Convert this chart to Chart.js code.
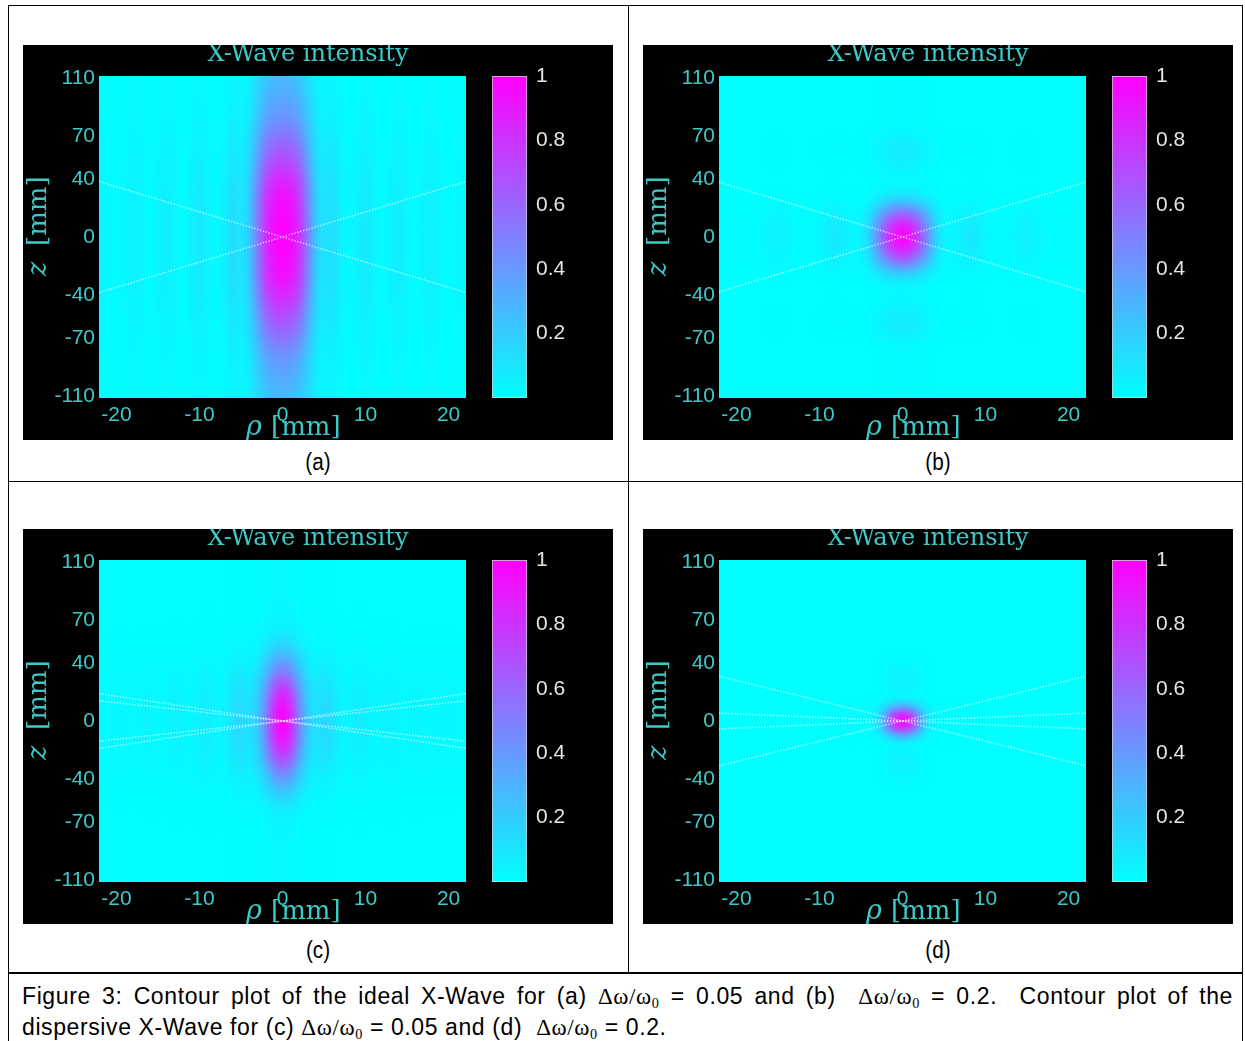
<!DOCTYPE html>
<html><head><meta charset="utf-8">
<script src="https://cdn.jsdelivr.net/npm/chart.js@4.4.0/dist/chart.umd.min.js"></script>
<style>
html,body{margin:0;padding:0;background:#fff;}
body{width:1245px;height:1041px;position:relative;overflow:hidden;font-family:'Liberation Sans',Arial,sans-serif;}
.ln{position:absolute;background:#000;}
.panel{position:absolute;width:590px;height:395px;background:#000;overflow:hidden;}
.panel canvas{position:absolute;top:0;}
.lbl{position:absolute;width:100px;text-align:center;font-size:23px;line-height:26px;color:#000;transform:scaleX(0.9);}
.cap{position:absolute;left:22px;width:1211px;font-size:23px;letter-spacing:0.6px;line-height:30px;color:#000;font-family:'Liberation Sans',Arial,sans-serif;}
.cap1{text-align:justify;text-align-last:justify;}
.m{font-family:'Liberation Serif','Times New Roman',serif;}
sub{font-size:0.62em;vertical-align:-0.3em;line-height:0;}
</style></head><body>
<div class="ln" style="left:8px;top:5px;width:1235px;height:1px"></div>
<div class="ln" style="left:8px;top:5px;width:1px;height:1036px"></div>
<div class="ln" style="left:1242px;top:5px;width:1px;height:1036px"></div>
<div class="ln" style="left:628px;top:5px;width:1px;height:968px"></div>
<div class="ln" style="left:8px;top:481px;width:1235px;height:1px"></div>
<div class="ln" style="left:8px;top:972px;width:1235px;height:2px"></div>

<div class="panel" id="pa" style="left:23px;top:45px"></div>
<div class="panel" id="pb" style="left:643px;top:45px"></div>
<div class="panel" id="pc" style="left:23px;top:529px"></div>
<div class="panel" id="pd" style="left:643px;top:529px"></div>

<div class="lbl" style="left:268px;top:449px">(a)</div>
<div class="lbl" style="left:888px;top:449px">(b)</div>
<div class="lbl" style="left:268px;top:937px">(c)</div>
<div class="lbl" style="left:888px;top:937px">(d)</div>

<div class="cap cap1" id="cap1" style="top:981px">Figure 3: Contour plot of the ideal X-Wave for (a) <span class="m">Δω/ω<sub>0</sub></span> = 0.05 and (b)&nbsp; <span class="m">Δω/ω<sub>0</sub></span> = 0.2.&nbsp; Contour plot of the</div>
<div class="cap" id="cap2" style="top:1012px">dispersive X-Wave for (c) <span class="m">Δω/ω<sub>0</sub></span> = 0.05 and (d)&nbsp; <span class="m">Δω/ω<sub>0</sub></span> = 0.2.</div>

<script>
// ---------- grids and tick labels ----------
const rhoGrid = [-22,-21,-20,-19,-18,-17,-16,-15,-14,-13,-12,-11,-10,-9,-8,-7,-6,-5,-4,-3,-2,-1,0,1,2,3,4,5,6,7,8,9,10,11,12,13,14,15,16,17,18,19,20,21,22];
const zGrid = [-110,-105,-100,-95,-90,-85,-80,-75,-70,-65,-60,-55,-50,-45,-40,-35,-30,-25,-20,-15,-10,-5,0,5,10,15,20,25,30,35,40,45,50,55,60,65,70,75,80,85,90,95,100,105,110];
const rhoTicks = [-20,-10,0,10,20];
const zTicks = [-110,-70,-40,0,40,70,110];
const cbTicks = [0.2,0.4,0.6,0.8,1];
const colorbarRange = [0,1];
const rhoEdges = [-22.1,22.1];
const titleText = 'X-Wave intensity';

// ---------- (a) ideal, dw/w0 = 0.05 ----------
const radialA = [0.04,0.03,0.01,0.03,0.06,0.04,0.01,0.04,0.07,0.04,0.01,0.05,0.09,0.05,0.02,0.06,0.14,0.10,0.22,0.52,0.82,0.96,
  1.00,
  0.96,0.82,0.52,0.22,0.10,0.14,0.06,0.02,0.05,0.09,0.05,0.01,0.04,0.07,0.04,0.01,0.04,0.06,0.03,0.01,0.03,0.04];
const axialA = [0.28,0.30,0.32,0.35,0.38,0.41,0.45,0.50,0.55,0.60,0.65,0.70,0.75,0.80,0.85,0.89,0.93,0.95,0.97,0.98,0.99,1.00,
  1.00,
  1.00,0.99,0.98,0.97,0.95,0.93,0.89,0.85,0.80,0.75,0.70,0.65,0.60,0.55,0.50,0.45,0.41,0.38,0.35,0.32,0.30,0.28];
const linesA = [[38.5,-38.5],[-38.5,38.5]];

// ---------- (b) ideal, dw/w0 = 0.2 ----------
const radialB = [0.01,0.01,0.01,0.01,0.01,0.02,0.04,0.05,0.04,0.02,0.01,0.01,0.03,0.07,0.09,0.06,0.03,0.05,0.18,0.45,0.72,0.92,
  1.00,
  0.92,0.72,0.45,0.18,0.05,0.03,0.06,0.09,0.07,0.03,0.01,0.01,0.02,0.04,0.05,0.04,0.02,0.01,0.01,0.01,0.01,0.01];
const axialB = [0.01,0.01,0.01,0.01,0.01,0.01,0.01,0.02,0.04,0.07,0.08,0.07,0.05,0.03,0.02,0.03,0.09,0.22,0.43,0.65,0.83,0.95,
  1.00,
  0.95,0.83,0.65,0.43,0.22,0.09,0.03,0.02,0.03,0.05,0.07,0.08,0.07,0.04,0.02,0.01,0.01,0.01,0.01,0.01,0.01,0.01];
const linesB = [[38,-38],[-38,38]];

// ---------- (c) dispersive, dw/w0 = 0.05 ----------
const radialC = [0.02,0.02,0.03,0.03,0.02,0.03,0.04,0.02,0.03,0.05,0.04,0.03,0.06,0.07,0.04,0.05,0.12,0.15,0.12,0.22,0.50,0.85,
  1.00,
  0.85,0.50,0.22,0.12,0.15,0.12,0.05,0.04,0.07,0.06,0.03,0.04,0.05,0.03,0.02,0.04,0.03,0.02,0.03,0.03,0.02,0.02];
const axialC = [0.02,0.02,0.02,0.02,0.02,0.02,0.03,0.03,0.04,0.06,0.09,0.14,0.21,0.30,0.40,0.50,0.62,0.73,0.82,0.90,0.95,0.99,
  1.00,
  0.99,0.95,0.90,0.82,0.73,0.62,0.50,0.40,0.30,0.21,0.14,0.09,0.06,0.04,0.03,0.03,0.02,0.02,0.02,0.02,0.02,0.02];
const linesC = [[19,-19],[14,-14],[-14,14],[-19,19]];

// ---------- (d) dispersive, dw/w0 = 0.2 ----------
const radialD = [0,0,0,0,0,0,0,0,0,0,0,0,0,0.01,0.01,0.02,0.03,0.02,0.03,0.12,0.45,0.85,
  1.00,
  0.85,0.45,0.12,0.03,0.02,0.03,0.02,0.01,0.01,0,0,0,0,0,0,0,0,0,0,0,0,0];
const axialD = [0,0,0,0,0,0,0,0,0,0,0,0,0,0.01,0.02,0.04,0.06,0.05,0.03,0.07,0.35,0.80,
  1.00,
  0.80,0.35,0.07,0.03,0.05,0.06,0.04,0.02,0.01,0,0,0,0,0,0,0,0,0,0,0,0,0];
const linesD = [[31,-31],[5.5,-5.5],[-5.5,5.5],[-31,31]];

// ---------- styling ----------
const TEAL = '#3ec9c9';
const CBTXT = '#e4e4e4';
const TICKFONT = {family:"'Liberation Sans', Arial, sans-serif", size:21};

function heatPlugin(radial, axial){
  return {
    id:'heat',
    beforeDatasetsDraw(chart){
      const {ctx, chartArea:ca, scales:{x, y}} = chart;
      const nx = rhoGrid.length, ny = zGrid.length;
      const off = document.createElement('canvas');
      off.width = nx; off.height = ny;
      const octx = off.getContext('2d');
      const img = octx.createImageData(nx, ny);
      for (let j = 0; j < ny; j++){
        const a = axial[ny-1-j];
        for (let i = 0; i < nx; i++){
          const v = Math.max(0, Math.min(1, radial[i]*a));
          const k = (j*nx+i)*4;
          img.data[k] = Math.round(255*v);
          img.data[k+1] = Math.round(255*(1-v));
          img.data[k+2] = 255;
          img.data[k+3] = 255;
        }
      }
      octx.putImageData(img, 0, 0);
      const dx = (rhoGrid[1]-rhoGrid[0])/2, dz = (zGrid[1]-zGrid[0])/2;
      const left = x.getPixelForValue(rhoGrid[0]-dx), right = x.getPixelForValue(rhoGrid[nx-1]+dx);
      const top = y.getPixelForValue(zGrid[ny-1]+dz), bottom = y.getPixelForValue(zGrid[0]-dz);
      ctx.save();
      ctx.beginPath(); ctx.rect(ca.left, ca.top, ca.width, ca.height); ctx.clip();
      ctx.fillStyle = '#00ffff';
      ctx.fillRect(ca.left, ca.top, ca.width, ca.height);
      ctx.imageSmoothingEnabled = true;
      ctx.imageSmoothingQuality = 'high';
      ctx.drawImage(off, left, top, right-left, bottom-top);
      ctx.restore();
    }
  };
}

const decorPlugin = {
  id:'decor',
  afterDraw(chart){
    const ctx = chart.ctx;
    ctx.save();
    ctx.fillStyle = TEAL;
    ctx.textBaseline = 'alphabetic';
    ctx.textAlign = 'center';
    ctx.font = "24px 'DejaVu Serif', serif";
    ctx.fillText(titleText, 285, 16);
    ctx.textAlign = 'left';
    ctx.font = "italic 27px 'DejaVu Serif', serif";
    ctx.fillText('ρ', 223, 390);
    ctx.font = "26px 'DejaVu Serif', serif";
    ctx.fillText('[mm]', 248, 390);
    ctx.translate(23, 231);
    ctx.rotate(-Math.PI/2);
    ctx.font = "italic 27px 'DejaVu Serif', serif";
    ctx.fillText('z', 0, 0);
    ctx.font = "26px 'DejaVu Serif', serif";
    ctx.fillText('[mm]', 30, 0);
    ctx.restore();
  }
};

function buildPanel(id, radial, axial, lines){
  const el = document.getElementById(id);
  const c = document.createElement('canvas');
  c.width = 590; c.height = 395; c.style.left = '0px';
  el.appendChild(c);
  const cb = document.createElement('canvas');
  cb.width = 80; cb.height = 395; cb.style.left = '468px';
  el.appendChild(cb);

  new Chart(c, {
    type:'scatter',
    data:{datasets: lines.map(l => ({
      data:[{x:rhoEdges[0], y:l[0]}, {x:rhoEdges[1], y:l[1]}],
      showLine:true, borderColor:'rgba(240,250,250,0.6)', borderWidth:1.6, borderDash:[1.5,1.5],
      pointRadius:0, pointHoverRadius:0
    }))},
    options:{
      responsive:false, animation:false, devicePixelRatio:1, events:[],
      layout:{padding:{left:16, right:147, top:31, bottom:0}},
      plugins:{legend:{display:false}, tooltip:{enabled:false}, title:{display:false}},
      scales:{
        x:{type:'linear', min:rhoEdges[0], max:rhoEdges[1],
          grid:{display:false, drawTicks:false}, border:{display:false},
          afterBuildTicks:s => { s.ticks = rhoTicks.map(v => ({value:v})); },
          afterFit:s => { s.height = 42; },
          ticks:{color:TEAL, font:TICKFONT, padding:5, maxRotation:0, autoSkip:false, callback:v => String(v)}},
        y:{type:'linear', min:-111.5, max:111.5,
          grid:{display:false, drawTicks:false}, border:{display:false},
          afterBuildTicks:s => { s.ticks = zTicks.map(v => ({value:v})); },
          afterFit:s => { s.width = 60; },
          ticks:{color:TEAL, font:TICKFONT, padding:4, autoSkip:false, callback:v => String(v)}}
      }
    },
    plugins:[heatPlugin(radial, axial), decorPlugin]
  });

  new Chart(cb, {
    type:'bar',
    data:{labels:[''], datasets:[{
      data:[colorbarRange],
      backgroundColor:(ctx) => {
        const ca = ctx.chart.chartArea;
        if (!ca) return '#80ffff';
        const g = ctx.chart.ctx.createLinearGradient(0, ca.bottom, 0, ca.top);
        g.addColorStop(0, '#00ffff'); g.addColorStop(1, '#ff00ff');
        return g;
      },
      borderColor:'#d4d4d4', borderWidth:1, borderSkipped:false,
      barPercentage:1, categoryPercentage:1
    }]},
    options:{
      responsive:false, animation:false, devicePixelRatio:1, events:[],
      layout:{padding:{left:1, right:0, top:31, bottom:42}},
      plugins:{legend:{display:false}, tooltip:{enabled:false}},
      scales:{
        x:{display:false},
        y:{position:'right', min:colorbarRange[0], max:colorbarRange[1],
          grid:{display:false, drawTicks:false}, border:{display:false},
          afterBuildTicks:s => { s.ticks = cbTicks.map(v => ({value:v})); },
          afterFit:s => { s.width = 44; },
          ticks:{color:CBTXT, font:TICKFONT, padding:9, autoSkip:false, callback:v => String(v)}}
      }
    }
  });
}

buildPanel('pa', radialA, axialA, linesA);
buildPanel('pb', radialB, axialB, linesB);
buildPanel('pc', radialC, axialC, linesC);
buildPanel('pd', radialD, axialD, linesD);

// keep caption first line on a single justified line
(function(){
  const c1 = document.getElementById('cap1'), c2 = document.getElementById('cap2');
  let fs = 23;
  while (c1.offsetHeight > 40 && fs > 14){ fs -= 0.5; c1.style.fontSize = fs+'px'; c2.style.fontSize = fs+'px'; }
})();
</script>
</body></html>
